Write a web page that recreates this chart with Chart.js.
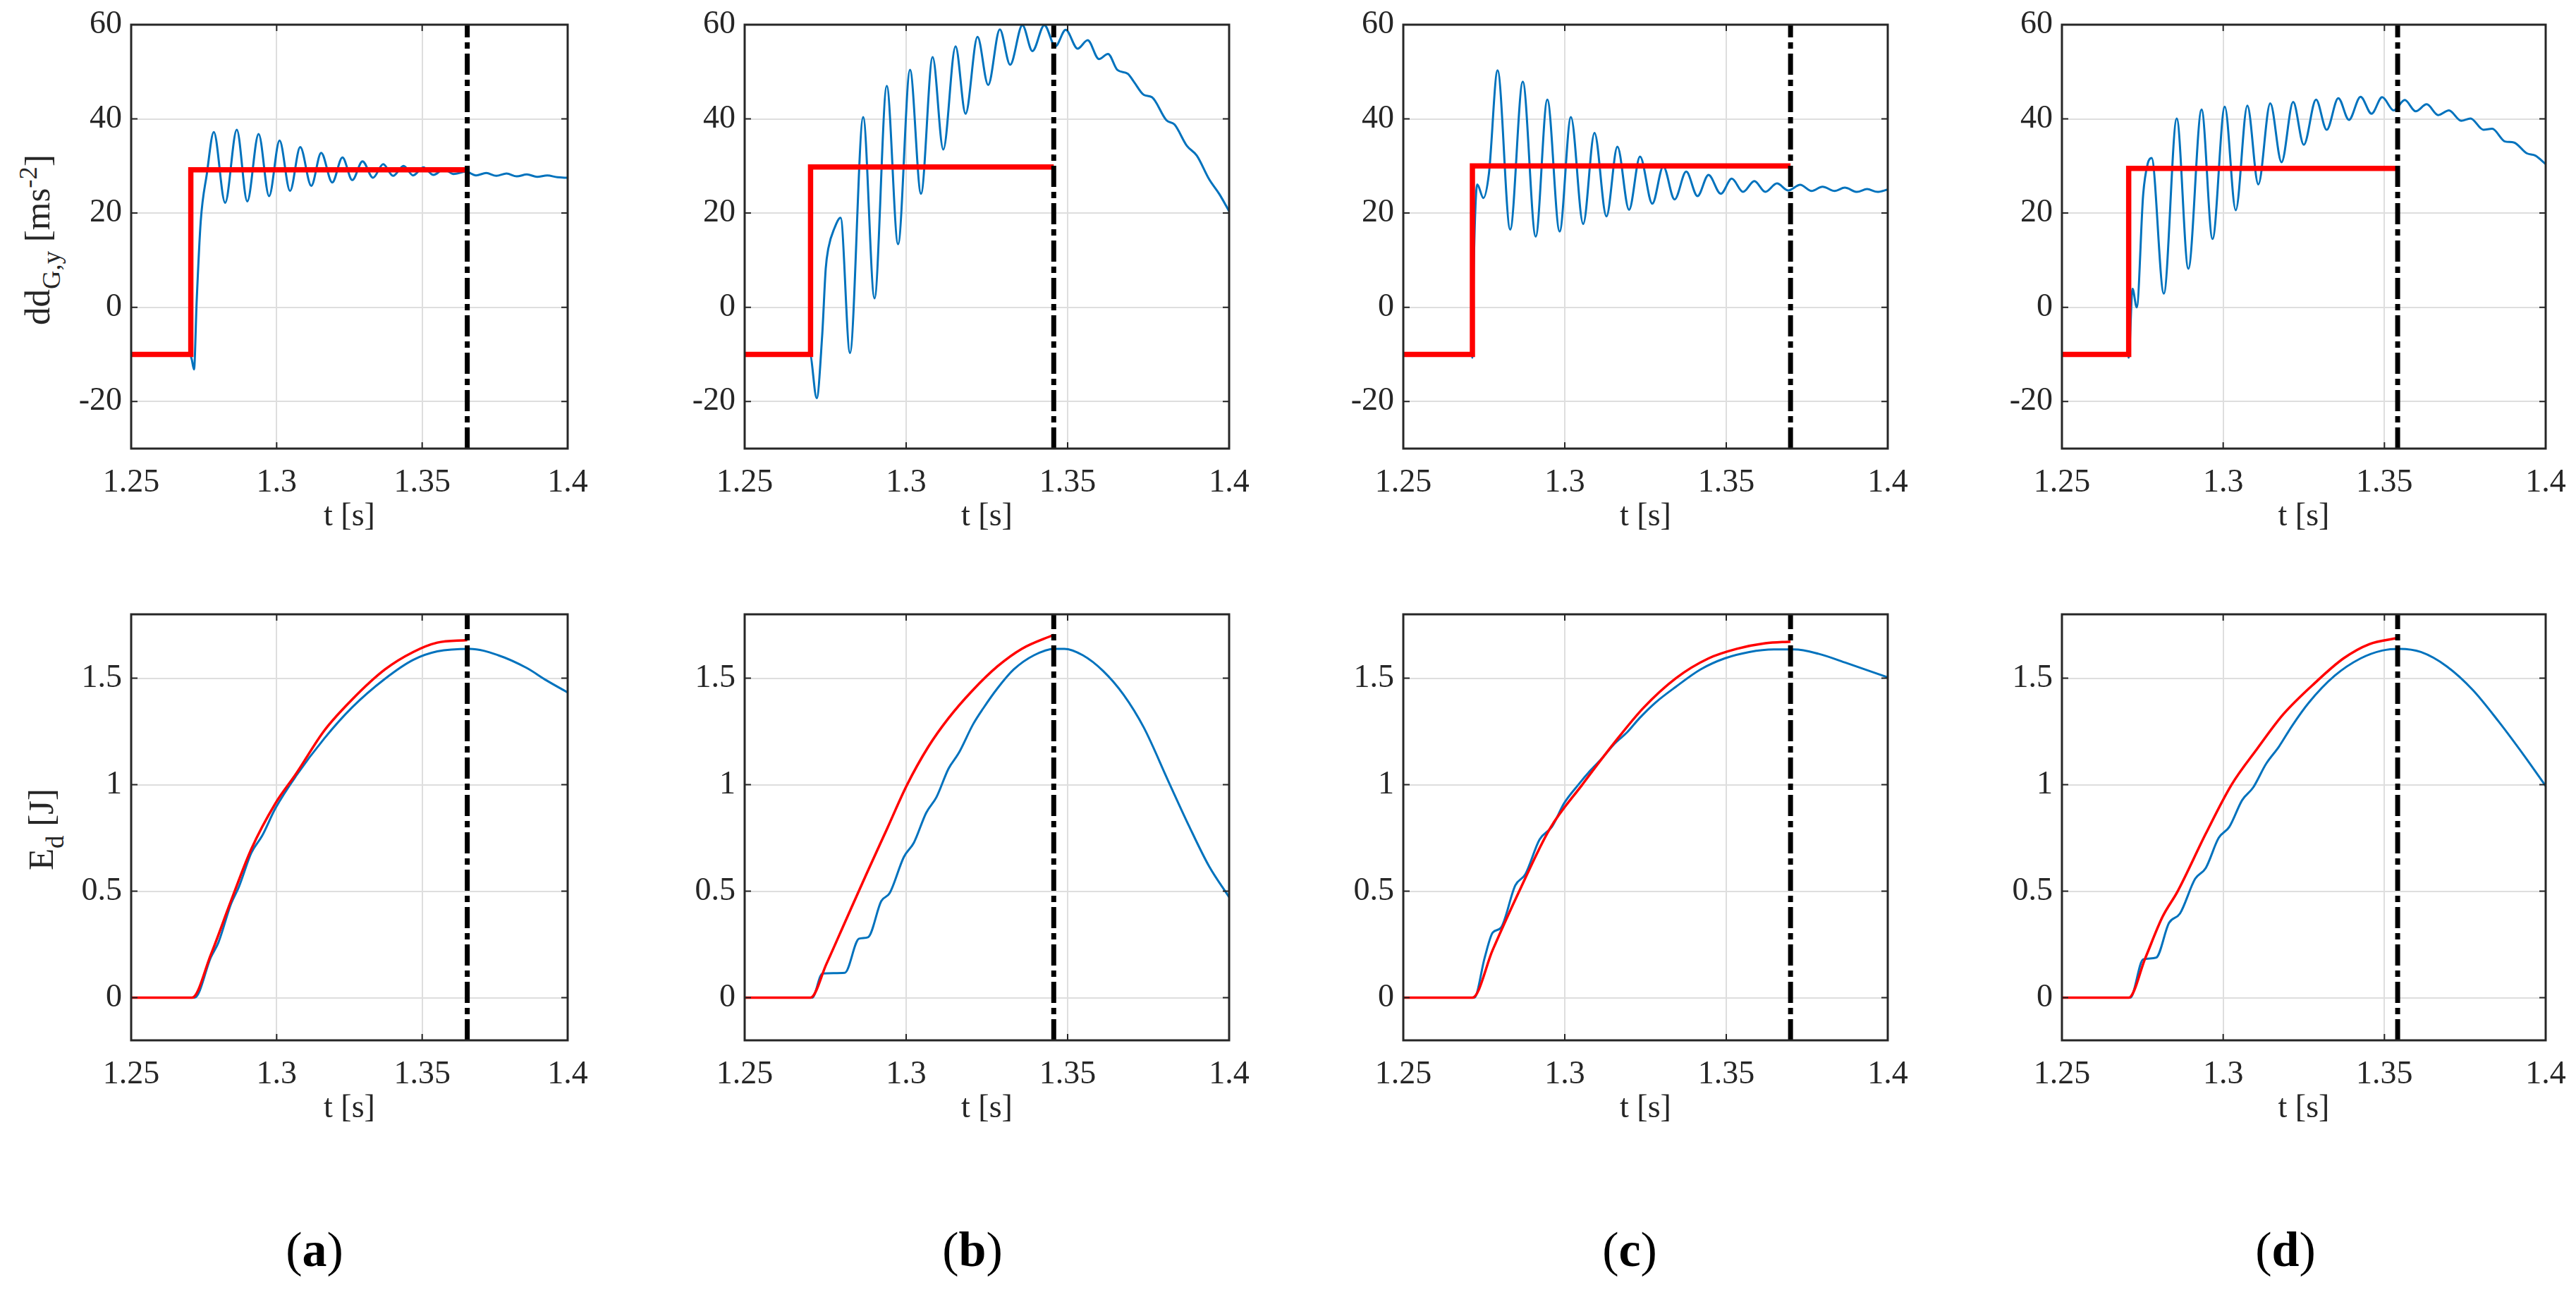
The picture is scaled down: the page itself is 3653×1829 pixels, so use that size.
<!DOCTYPE html>
<html>
<head>
<meta charset="utf-8">
<script src="https://cdn.jsdelivr.net/npm/chart.js@4.4.1/dist/chart.umd.min.js"></script>
<style>
  body { margin: 0; background: #fff; width: 3653px; height: 1829px; position: relative; overflow: hidden;
         font-family: "Liberation Serif", "Times New Roman", serif; color: #262626; }
  canvas { position: absolute; }
  .ylab { position: absolute; font-size: 51px; line-height: 1; white-space: nowrap;
          transform: translate(-50%, -50%) rotate(-90deg); }
  .ylab .lo { position: relative; font-size: 0.72em; top: 0.42em; }
  .ylab .hi { position: relative; font-size: 0.72em; top: -0.5em; }
  .cap { position: absolute; font-size: 70px; line-height: 1; color: #000; transform: translateX(-50%); white-space: nowrap; }
</style>
</head>
<body>

<div class="ylab" style="left:53px; top:340px;">dd<span class="lo">G,y</span> [ms<span class="hi">-2</span>]</div>
<div class="ylab" style="left:58px; top:1176px;">E<span class="lo">d</span> [J]</div>

<div class="cap" style="left:446px; top:1737px;">(<b>a</b>)</div>
<div class="cap" style="left:1379px; top:1737px;">(<b>b</b>)</div>
<div class="cap" style="left:2311px; top:1737px;">(<b>c</b>)</div>
<div class="cap" style="left:3241px; top:1737px;">(<b>d</b>)</div>

<script>
// axis ticks / limits
const xTicks = [1.25, 1.3, 1.35, 1.4];
const accTicks = [-20, 0, 20, 40, 60];
const accLim = [-30, 60];
const energyTicks = [0, 0.5, 1, 1.5];
const energyLim = [-0.2, 1.8];

// time of the dash-dot marker in (a)..(d)
const markerT = [1.3655, 1.3457, 1.3699, 1.3541];

// top row: reference step (red)
const stepT_a = [1.25, 1.2705, 1.2705, 1.3655];
const stepY_a = [-10, -10, 29.2, 29.2];
const stepT_b = [1.25, 1.2704, 1.2704, 1.3457];
const stepY_b = [-10, -10, 29.8, 29.8];
const stepT_c = [1.25, 1.2714, 1.2714, 1.3699];
const stepY_c = [-10, -10, 30.0, 30.0];
const stepT_d = [1.25, 1.2707, 1.2707, 1.3541];
const stepY_d = [-10, -10, 29.5, 29.5];

// top row: measured acceleration (blue)
const accT_a = [1.25, 1.2702, 1.2708, 1.2716, 1.2725, 1.2739, 1.2760, 1.2784, 1.2823, 1.2863, 1.2899, 1.2938, 1.2974, 1.3010,
  1.3046, 1.3081, 1.3119, 1.3153, 1.3191, 1.3226, 1.3260, 1.3295, 1.3331, 1.3366, 1.3400, 1.3436, 1.3469, 1.3504, 1.3539,
  1.3574, 1.3608, 1.3650, 1.3685, 1.3720, 1.3755, 1.3790, 1.3825, 1.3860, 1.3895, 1.3930, 1.3965, 1.4];
const accY_a = [-10, -10, -11, -13.2, 1.1, 18.2, 28.3, 37.2, 22.2, 37.7, 22.5, 36.8, 23.6, 35.4,
  24.7, 34.0, 25.8, 32.8, 26.5, 31.8, 27.0, 31.0, 27.5, 30.4, 27.9, 30.0, 28.0, 29.7, 28.1,
  29.3, 28.3, 28.8, 28.0, 28.5, 27.9, 28.4, 27.8, 28.2, 27.7, 28.0, 27.6, 27.5];

const accT_b = [1.25, 1.2702, 1.2723, 1.2740, 1.2751, 1.2759, 1.2778, 1.2797, 1.2826, 1.2867, 1.2902, 1.2940, 1.2975, 1.3012,
  1.3046, 1.3082, 1.3115, 1.3153, 1.3184, 1.3221, 1.3254, 1.3290, 1.3322, 1.3360, 1.3391, 1.3428, 1.3462, 1.3494, 1.3531,
  1.3562, 1.3597, 1.3625, 1.3654, 1.3686, 1.3705, 1.3736, 1.3761, 1.3806, 1.3831, 1.3869, 1.3900, 1.3938, 1.3970, 1.4];
const accY_b = [-10, -10, -19.3, -6, 8.2, 12.5, 16.8, 19.0, -9.7, 40.4, 1.9, 47.0, 13.4, 50.4,
  24.1, 53.1, 33.5, 55.4, 41.1, 57.4, 47.2, 59.0, 51.5, 59.9, 54.4, 59.9, 55.4, 58.9, 54.9,
  56.7, 52.7, 53.8, 50.4, 49.6, 47.9, 45.1, 44.6, 39.7, 38.8, 34.3, 32.2, 27.2, 24.0, 20.4];

const accT_c = [1.25, 1.2712, 1.2714, 1.2718, 1.2729, 1.2748, 1.2765, 1.2792, 1.2831, 1.2870, 1.2910, 1.2946, 1.2984, 1.3019,
  1.3057, 1.3092, 1.3129, 1.3163, 1.3199, 1.3233, 1.3271, 1.3305, 1.3340, 1.3376, 1.3411, 1.3445, 1.3483, 1.3517, 1.3552,
  1.3587, 1.3621, 1.3657, 1.3692, 1.3729, 1.3764, 1.3798, 1.3836, 1.3867, 1.3905, 1.3936, 1.3968, 1.4];
const accY_c = [-10, -10, -10.7, 8.2, 26.1, 23.2, 28.3, 50.3, 16.5, 47.9, 15.0, 44.1, 16.1, 40.4,
  17.7, 37.0, 19.3, 34.1, 20.7, 32.0, 22.0, 29.9, 22.9, 28.8, 23.6, 28.1, 24.1, 27.3, 24.5,
  26.8, 24.5, 26.3, 24.8, 26.0, 24.7, 25.6, 24.7, 25.4, 24.5, 25.1, 24.5, 25.0];

const accT_d = [1.25, 1.2705, 1.2707, 1.2719, 1.2732, 1.2752, 1.2766, 1.2778, 1.2816, 1.2856, 1.2892, 1.2933, 1.2967, 1.3005,
  1.3039, 1.3075, 1.3109, 1.3146, 1.3181, 1.3217, 1.3250, 1.3288, 1.3321, 1.3357, 1.3390, 1.3426, 1.3460, 1.3493, 1.3529,
  1.3563, 1.3597, 1.3631, 1.3667, 1.3700, 1.3738, 1.3767, 1.3807, 1.3834, 1.3874, 1.3901, 1.3941, 1.3968, 1.4];
const accY_d = [-10, -10, -10.7, 3.9, 0, 24.0, 30.5, 31.7, 2.9, 40.1, 8.2, 42.0, 14.5, 42.6,
  20.6, 42.8, 26.1, 43.3, 30.8, 43.6, 34.5, 44.1, 37.7, 44.4, 39.8, 44.7, 41.1, 44.6, 41.8,
  44.0, 41.6, 43.1, 40.8, 41.8, 39.6, 40.1, 37.7, 37.9, 35.2, 35.0, 32.7, 32.2, 30.4];

// bottom row: reference energy (red)
const refT_a = [1.25, 1.2709, 1.2774, 1.2843, 1.2913, 1.2996, 1.3066, 1.3163, 1.3260, 1.3372, 1.3469, 1.3552, 1.3655];
const refE_a = [0, 0, 0.203, 0.454, 0.698, 0.913, 1.05, 1.253, 1.401, 1.541, 1.623, 1.667, 1.679];
const refT_b = [1.25, 1.2704, 1.2753, 1.2816, 1.2879, 1.2942, 1.3002, 1.3069, 1.3131, 1.3207, 1.3283, 1.3358, 1.3457];
const refE_b = [0, 0, 0.158, 0.373, 0.587, 0.797, 0.997, 1.179, 1.312, 1.445, 1.556, 1.638, 1.704];
const refT_c = [1.25, 1.2714, 1.2777, 1.2859, 1.2954, 1.3054, 1.3155, 1.3243, 1.3344, 1.3445, 1.3533, 1.3621, 1.3699];
const refE_c = [0, 0, 0.225, 0.5, 0.794, 1.0, 1.20, 1.36, 1.50, 1.593, 1.638, 1.664, 1.672];
const refT_d = [1.25, 1.2707, 1.2759, 1.2812, 1.2859, 1.2946, 1.3026, 1.3106, 1.3186, 1.3286, 1.3373, 1.3453, 1.3541];
const refE_d = [0, 0, 0.188, 0.380, 0.5, 0.77, 1.0, 1.17, 1.33, 1.48, 1.593, 1.660, 1.689];

// bottom row: measured energy (blue)
const enT_a = [1.25, 1.2718, 1.2774, 1.2800, 1.2843, 1.2870, 1.2913, 1.2950, 1.2996, 1.3066, 1.3163, 1.3260, 1.3372, 1.3469,
  1.3552, 1.3664, 1.3761, 1.3858, 1.3927, 1.4];
const enE_a = [0, 0, 0.19, 0.26, 0.44, 0.52, 0.68, 0.76, 0.89, 1.04, 1.216, 1.364, 1.497, 1.586,
  1.626, 1.638, 1.608, 1.549, 1.490, 1.433];
const enT_b = [1.25, 1.2709, 1.2741, 1.2810, 1.2854, 1.2882, 1.2923, 1.2949, 1.2993, 1.3024, 1.3062, 1.3094, 1.3131, 1.3163,
  1.3207, 1.3238, 1.3283, 1.3333, 1.3396, 1.3459, 1.3490, 1.3547, 1.3610, 1.3673, 1.3736, 1.3812, 1.3875, 1.3938, 1.4];
const enE_b = [0, 0, 0.114, 0.117, 0.277, 0.284, 0.454, 0.491, 0.661, 0.728, 0.868, 0.942, 1.075, 1.149,
  1.283, 1.357, 1.453, 1.541, 1.608, 1.638, 1.638, 1.608, 1.534, 1.423, 1.268, 1.016, 0.809, 0.617, 0.472];
const enT_c = [1.25, 1.2720, 1.2752, 1.2777, 1.2802, 1.2847, 1.2878, 1.2922, 1.2960, 1.2998, 1.3042, 1.3080, 1.3117, 1.3155,
  1.3193, 1.3231, 1.3281, 1.3344, 1.3420, 1.3495, 1.3571, 1.3647, 1.3710, 1.3785, 1.3873, 1.4];
const enE_c = [0, 0, 0.188, 0.306, 0.328, 0.528, 0.580, 0.743, 0.802, 0.913, 1.0, 1.068, 1.127, 1.194,
  1.246, 1.312, 1.386, 1.460, 1.541, 1.593, 1.623, 1.635, 1.635, 1.615, 1.571, 1.504];
const enT_d = [1.25, 1.2712, 1.2752, 1.2792, 1.2832, 1.2866, 1.2913, 1.2946, 1.2986, 1.3019, 1.3059, 1.3093, 1.3133, 1.3173,
  1.3213, 1.3266, 1.3346, 1.3426, 1.3493, 1.3547, 1.3613, 1.3693, 1.3774, 1.3854, 1.3934, 1.4];
const enE_d = [0, 0, 0.180, 0.188, 0.351, 0.395, 0.558, 0.609, 0.750, 0.802, 0.928, 0.987, 1.098, 1.179,
  1.275, 1.386, 1.512, 1.593, 1.630, 1.638, 1.623, 1.556, 1.445, 1.297, 1.135, 0.994];

// plot boxes in page pixels
const colLeft = [186, 1056, 1990, 2924];
const colRight = [805, 1743, 2677, 3610];
const rowTop = [35, 871];
const rowBottom = [636, 1475];
const AXW = 160, AXH = 140, PAD = 50;

const BLUE = '#0072BD', RED = '#FF0000', INK = '#262626';
const tickFont = { family: '"Liberation Serif", "Times New Roman", serif', size: 46 };

function pts(ts, ys) { return ts.map((t, i) => ({ x: t, y: ys[i] })); }

const framePlugin = {
  id: 'frame',
  afterDatasetsDraw(chart) {
    const { ctx, chartArea: a, scales: { x, y } } = chart;
    ctx.save();
    ctx.strokeStyle = INK;
    ctx.lineWidth = 2;
    const len = 9;
    ctx.beginPath();
    x.ticks.forEach(t => {
      const px = x.getPixelForValue(t.value);
      ctx.moveTo(px, a.bottom); ctx.lineTo(px, a.bottom - len);
      ctx.moveTo(px, a.top); ctx.lineTo(px, a.top + len);
    });
    y.ticks.forEach(t => {
      const py = y.getPixelForValue(t.value);
      ctx.moveTo(a.left, py); ctx.lineTo(a.left + len, py);
      ctx.moveTo(a.right, py); ctx.lineTo(a.right - len, py);
    });
    ctx.stroke();
    ctx.lineWidth = 3;
    ctx.strokeRect(a.left, a.top, a.right - a.left, a.bottom - a.top);
    ctx.restore();
  }
};

function makePanel(col, row, datasets, lim, yTicks) {
  const L = colLeft[col], R = colRight[col], T = rowTop[row], B = rowBottom[row];
  const cv = document.createElement('canvas');
  const w = (R - L) + AXW + PAD, h = (B - T) + PAD + AXH;
  cv.width = w; cv.height = h;
  cv.style.left = (L - AXW) + 'px';
  cv.style.top = (T - PAD) + 'px';
  cv.style.width = w + 'px'; cv.style.height = h + 'px';
  document.body.appendChild(cv);

  new Chart(cv, {
    type: 'line',
    data: { datasets },
    options: {
      responsive: false,
      devicePixelRatio: 1,
      animation: false,
      events: [],
      layout: { padding: { top: PAD, right: PAD, left: 0, bottom: 0 } },
      plugins: { legend: { display: false }, tooltip: { enabled: false } },
      elements: { point: { radius: 0 } },
      scales: {
        x: {
          type: 'linear', min: 1.25, max: 1.4,
          afterBuildTicks: s => { s.ticks = xTicks.map(v => ({ value: v })); },
          afterFit: s => { s.height = AXH; },
          ticks: { font: tickFont, color: INK, padding: 21, maxRotation: 0, autoSkip: false,
                   callback: v => String(v) },
          grid: { color: '#dedede', lineWidth: 2, drawTicks: false },
          border: { display: false },
          title: { display: true, text: 't [s]', font: tickFont, color: INK, padding: { top: 0, bottom: 15 } }
        },
        y: {
          type: 'linear', min: lim[0], max: lim[1],
          afterBuildTicks: s => { s.ticks = yTicks.map(v => ({ value: v })); },
          afterFit: s => { s.width = AXW; },
          ticks: { font: tickFont, color: INK, padding: 13, autoSkip: false, callback: v => String(v) },
          grid: { color: '#dedede', lineWidth: 2, drawTicks: false },
          border: { display: false }
        }
      }
    },
    plugins: [framePlugin]
  });
}

// Chart.js paints the first dataset on top, so the marker goes first and blue last
function markerSet(t, lim) {
  return { data: pts([t, t], lim), borderColor: '#000', borderWidth: 7, borderDash: [30, 7, 9, 7], tension: 0 };
}

const accSets = [[accT_a, accY_a, stepT_a, stepY_a], [accT_b, accY_b, stepT_b, stepY_b],
                 [accT_c, accY_c, stepT_c, stepY_c], [accT_d, accY_d, stepT_d, stepY_d]];
const enSets = [[enT_a, enE_a, refT_a, refE_a], [enT_b, enE_b, refT_b, refE_b],
                [enT_c, enE_c, refT_c, refE_c], [enT_d, enE_d, refT_d, refE_d]];

accSets.forEach((s, i) => {
  makePanel(i, 0, [
    markerSet(markerT[i], accLim),
    { data: pts(s[2], s[3]), borderColor: RED, borderWidth: 7.5, tension: 0 },
    { data: pts(s[0], s[1]), borderColor: BLUE, borderWidth: 3, cubicInterpolationMode: 'monotone' }
  ], accLim, accTicks);
});

enSets.forEach((s, i) => {
  makePanel(i, 1, [
    markerSet(markerT[i], energyLim),
    { data: pts(s[2], s[3]), borderColor: RED, borderWidth: 3.5, cubicInterpolationMode: 'monotone' },
    { data: pts(s[0], s[1]), borderColor: BLUE, borderWidth: 3, cubicInterpolationMode: 'monotone' }
  ], energyLim, energyTicks);
});
</script>
</body>
</html>
